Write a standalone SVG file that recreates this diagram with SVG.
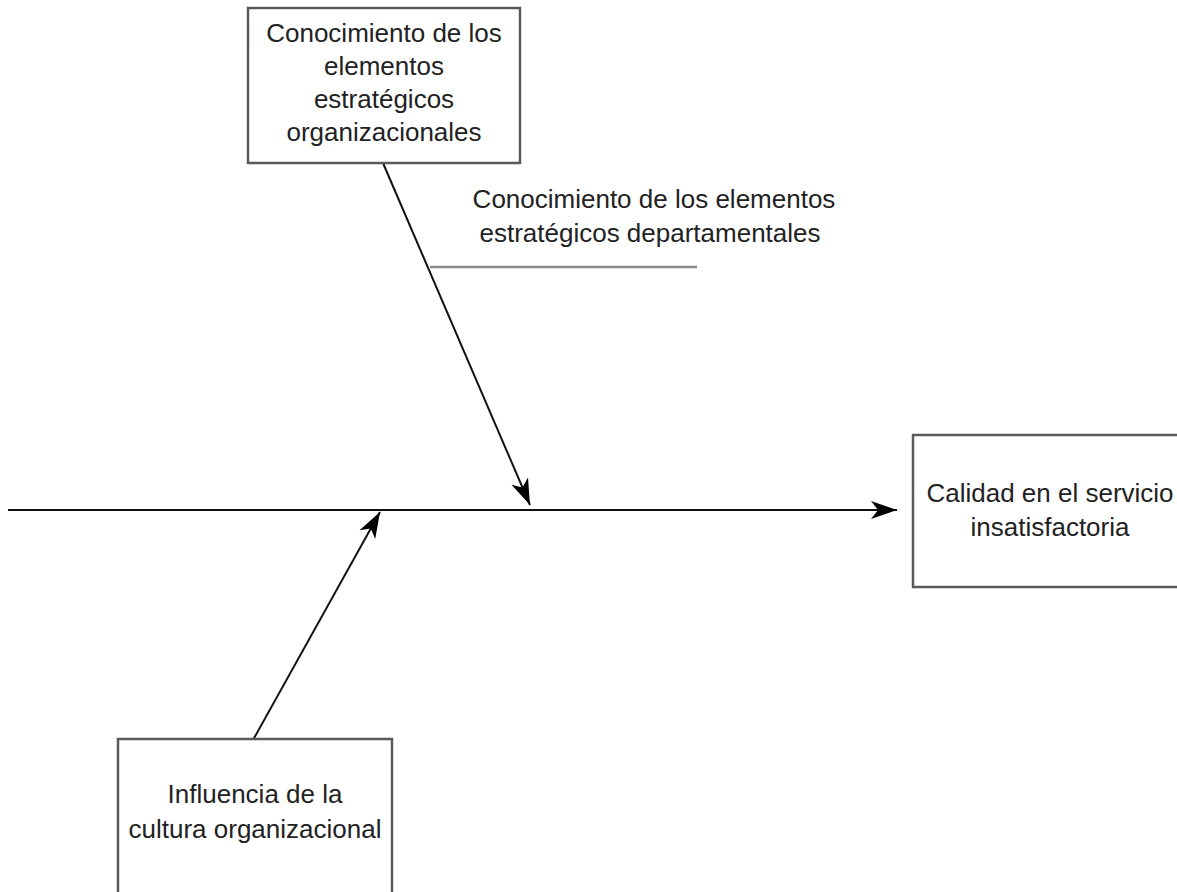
<svg xmlns="http://www.w3.org/2000/svg" width="1177" height="892" viewBox="0 0 1177 892">
  <style>
    .box { fill: #ffffff; stroke: #5a5a5a; stroke-width: 2.5; }
    .lbl { font-family: "Liberation Sans", Arial, sans-serif; font-size: 26px; fill: #222222; text-anchor: middle; }
    .bone { fill: none; stroke: #111111; stroke-width: 2; }
    .sub { fill: none; stroke: #8a8a8a; stroke-width: 2.5; }
  </style>
  <defs>
    <marker id="arrow" markerUnits="userSpaceOnUse" markerWidth="30" markerHeight="24" viewBox="-28 -12 30 24" refX="0" refY="0" orient="auto">
      <path d="M0,0 L-26,-9 L-19,0 L-26,9 Z" fill="#000000"/>
    </marker>
  </defs>
  <rect width="1177" height="892" fill="#ffffff"/>

  <!-- connectors -->
  <g id="connectors">
    <line class="bone" x1="8" y1="510" x2="897" y2="510" marker-end="url(#arrow)"/>
    <line class="bone" x1="383" y1="163" x2="530" y2="505" marker-end="url(#arrow)"/>
    <line class="bone" x1="253" y1="740" x2="380" y2="512" marker-end="url(#arrow)"/>
    <line class="sub" x1="430" y1="267" x2="697" y2="267"/>
  </g>

  <!-- top cause -->
  <g id="node-organizacionales">
    <rect class="box" x="248" y="8" width="272" height="155"/>
    <text class="lbl" x="384" y="42">Conocimiento de los</text>
    <text class="lbl" x="384" y="75">elementos</text>
    <text class="lbl" x="384" y="108">estratégicos</text>
    <text class="lbl" x="384" y="141">organizacionales</text>
  </g>

  <!-- sub-cause label -->
  <g id="node-departamentales">
    <text class="lbl" x="654" y="208">Conocimiento de los elementos</text>
    <text class="lbl" x="650" y="242">estratégicos departamentales</text>
  </g>

  <!-- effect -->
  <g id="node-calidad">
    <rect class="box" x="913" y="435" width="280" height="152"/>
    <text class="lbl" x="1050" y="502">Calidad en el servicio</text>
    <text class="lbl" x="1050" y="536">insatisfactoria</text>
  </g>

  <!-- bottom cause -->
  <g id="node-cultura">
    <rect class="box" x="118" y="739" width="274" height="170"/>
    <text class="lbl" x="255" y="803">Influencia de la</text>
    <text class="lbl" x="255" y="838">cultura organizacional</text>
  </g>
</svg>
